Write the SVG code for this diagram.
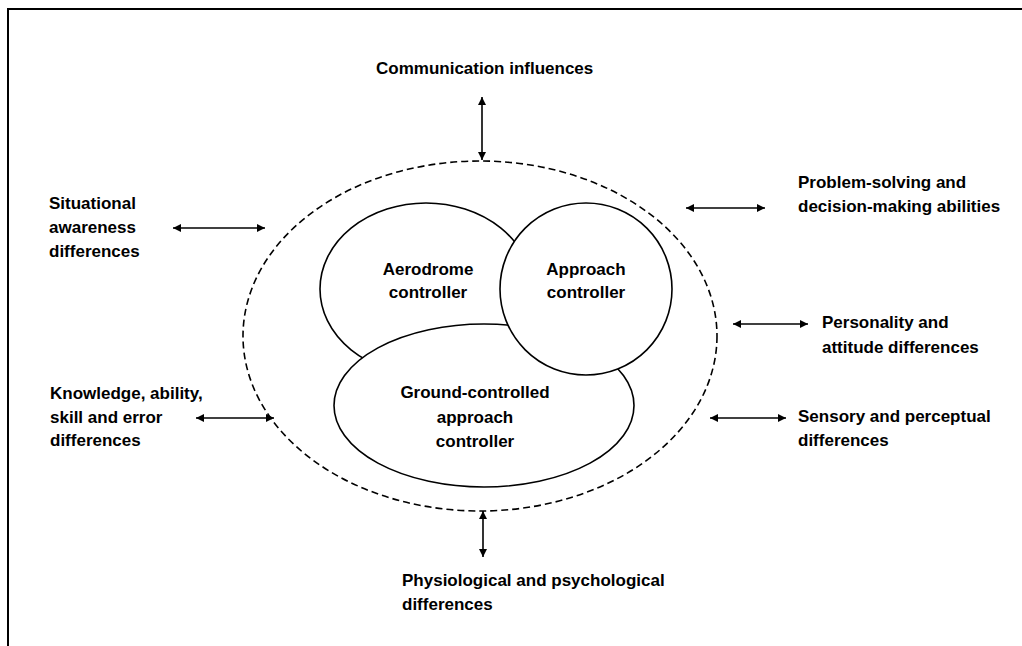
<svg xmlns="http://www.w3.org/2000/svg" width="1022" height="646" viewBox="0 0 1022 646">
<style>
text{font-family:"Liberation Sans",Arial,sans-serif;font-weight:bold;font-size:17px;fill:#000}
.c{text-anchor:middle}
.shape{fill:#fff;stroke:#000;stroke-width:1.6}
.dash{fill:none;stroke:#000;stroke-width:1.6;stroke-dasharray:7 4}
.arr{stroke:#000;stroke-width:1.6;fill:none;marker-start:url(#ah);marker-end:url(#ah)}
.frame{stroke:#000;stroke-width:2;fill:none}
</style>
<defs>
<marker id="ah" viewBox="0 0 10 10" refX="10" refY="5" markerUnits="userSpaceOnUse" markerWidth="9" markerHeight="8" orient="auto-start-reverse">
<path d="M0,0 L10,5 L0,10 z" fill="#000"/>
</marker>
</defs>
<rect width="1022" height="646" fill="#fff"/>
<path class="frame" d="M8,646 V9 H1022"/>

<g id="boundary">
<ellipse class="dash" cx="480" cy="336" rx="237" ry="175"/>
</g>

<g id="aerodrome">
<ellipse class="shape" cx="426" cy="289" rx="106" ry="86"/>
<text class="c" x="428" y="275">Aerodrome</text>
<text class="c" x="428" y="298">controller</text>
</g>

<g id="gca">
<ellipse class="shape" cx="484" cy="405.5" rx="150" ry="81.5"/>
<text class="c" x="475" y="398">Ground-controlled</text>
<text class="c" x="475" y="423">approach</text>
<text class="c" x="475" y="447">controller</text>
</g>

<g id="approach">
<circle class="shape" cx="586" cy="289" r="86"/>
<text class="c" x="586" y="275">Approach</text>
<text class="c" x="586" y="298">controller</text>
</g>

<g id="connectors">
<line class="arr" x1="482" y1="97" x2="482" y2="160"/>
<line class="arr" x1="173" y1="228" x2="265" y2="228"/>
<line class="arr" x1="196" y1="418" x2="274" y2="418"/>
<line class="arr" x1="686" y1="208" x2="765" y2="208"/>
<line class="arr" x1="733" y1="324" x2="808" y2="324"/>
<line class="arr" x1="710" y1="418" x2="786" y2="418"/>
<line class="arr" x1="483" y1="511" x2="483" y2="557"/>
</g>

<g id="communication">
<text x="376" y="74">Communication influences</text>
</g>
<g id="situational">
<text x="49" y="209">Situational</text>
<text x="49" y="233">awareness</text>
<text x="49" y="257">differences</text>
</g>
<g id="knowledge">
<text x="50" y="399">Knowledge, ability,</text>
<text x="50" y="423">skill and error</text>
<text x="50" y="446">differences</text>
</g>
<g id="problem">
<text x="798" y="188">Problem-solving and</text>
<text x="798" y="212">decision-making abilities</text>
</g>
<g id="personality">
<text x="822" y="328">Personality and</text>
<text x="822" y="353">attitude differences</text>
</g>
<g id="sensory">
<text x="798" y="422">Sensory and perceptual</text>
<text x="798" y="446">differences</text>
</g>
<g id="physiological">
<text x="402" y="586">Physiological and psychological</text>
<text x="402" y="610">differences</text>
</g>
</svg>
